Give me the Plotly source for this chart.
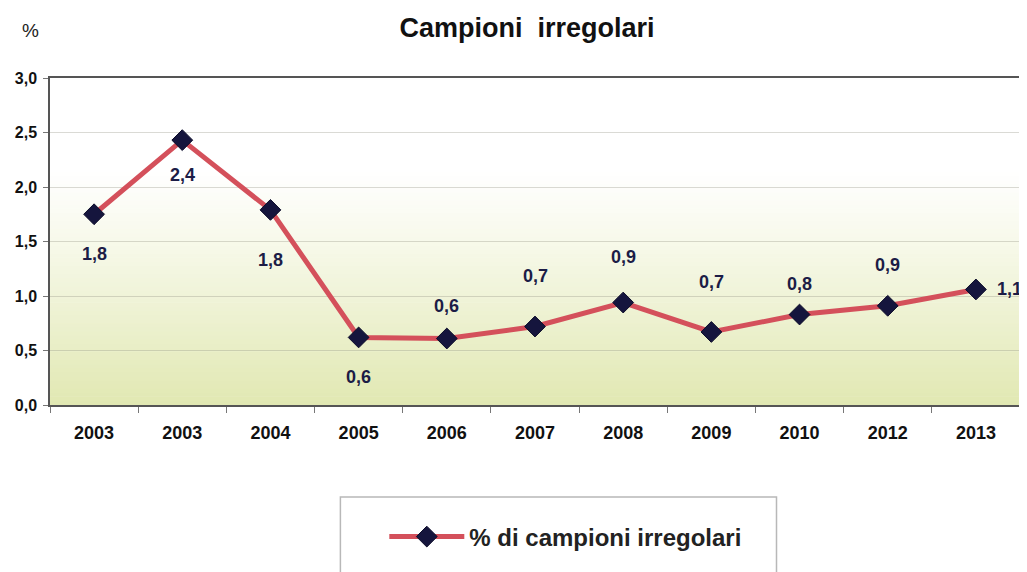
import plotly.graph_objects as go

# ---- data ----
years = ["2003", "2003", "2004", "2005", "2006", "2007", "2008", "2009", "2010", "2012", "2013"]
values = [1.75, 2.43, 1.79, 0.62, 0.61, 0.72, 0.94, 0.67, 0.83, 0.91, 1.06]
value_labels = ["1,8", "2,4", "1,8", "0,6", "0,6", "0,7", "0,9", "0,7", "0,8", "0,9", "1,1"]
series_name = "% di campioni irregolari"
chart_title = "Campioni irregolari"
y_unit = "%"
y_ticks = [0.0, 0.5, 1.0, 1.5, 2.0, 2.5, 3.0]

# label placement offsets (px), styling only
label_dy = [-40, -35, -50, -40, 33, 51, 46, 50, 31, 41, 0]
label_dx = [0, 0, 0, 0, 0, 0, 0, 0, 0, 0, 34]

# page body adds an 8px offset; figure is sized to fill the rest of the window
OFF = 8
W, H = 1027 - OFF, 572 - OFF
L, T = 50 - OFF, 78 - OFF
R = W - (1022 - OFF)
B = H - (405 - OFF)
pw = W - L - R
ph = H - T - B

def px_x(px):
    return (px - OFF - L) / pw

def px_y(py):
    return (H - B - (py - OFF)) / ph

pos = list(range(len(years)))

FONT = "Liberation Sans, Arial, sans-serif"

fig = go.Figure()
fig.add_trace(go.Scatter(
    x=pos, y=values, mode="lines+markers", name=series_name,
    line=dict(color="#d4505b", width=5),
    marker=dict(symbol="diamond", size=16, color="#15153d",
                line=dict(color="#0d0d2a", width=1)),
    hoverinfo="skip",
))

# data labels
for i, (xv, yv, t) in enumerate(zip(pos, values, value_labels)):
    fig.add_annotation(x=xv, y=yv, xref="x", yref="y", text=t, showarrow=False,
                       xshift=label_dx[i], yshift=label_dy[i],
                       font=dict(family=FONT, size=18, color="#1c1c46", weight="bold"))

# background gradient strips (white at top -> pale yellow-green at bottom)
shapes = []
N = 80
top_c = (255, 255, 255)
bot_c = (225, 232, 178)
for k in range(N):
    f0 = k / N
    f1 = (k + 1) / N
    fm = (f0 + f1) / 2
    t = max(0.0, min(1.0, (0.72 - fm) / 0.72))
    t = t ** 1.1
    c = tuple(round(top_c[j] * (1 - t) + bot_c[j] * t) for j in range(3))
    shapes.append(dict(type="rect", xref="x domain", yref="y domain",
                       x0=0, x1=1, y0=f0, y1=f1 + 0.002, layer="below",
                       line=dict(width=0), fillcolor="rgb(%d,%d,%d)" % c))

# legend box
shapes.append(dict(type="rect", xref="paper", yref="paper",
                   x0=px_x(341), x1=px_x(778), y0=px_y(620), y1=px_y(497),
                   line=dict(color="#b8b8b8", width=1.5), fillcolor="rgba(0,0,0,0)"))

fig.update_layout(
    width=W, height=H,
    margin=dict(l=L, r=R, t=T, b=B),
    paper_bgcolor="white", plot_bgcolor="white",
    separators=",.",
    font=dict(family=FONT, color="#111"),
    title=dict(text=chart_title.replace(" ", "\u00a0\u00a0"),
               x=(527 - OFF) / W, xanchor="center", y=1 - (28 - OFF) / H, yanchor="middle",
               font=dict(family=FONT, size=27, color="#111", weight="bold")),
    showlegend=True,
    legend=dict(orientation="h", x=px_x(385), xanchor="left", y=px_y(537), yanchor="middle",
                bgcolor="rgba(0,0,0,0)", borderwidth=0, itemwidth=75,
                font=dict(family=FONT, size=24, color="#222", weight="bold")),
    shapes=shapes,
    xaxis=dict(range=[-0.5, len(years) - 0.5], tickmode="array", tickvals=pos, ticktext=years,
               ticks="", showgrid=False, zeroline=False,
               showline=True, linecolor="#555", linewidth=1.5, mirror=True,
               ticklabelstandoff=11,
               tickfont=dict(family=FONT, size=18, color="#111", weight="bold"),
               minor=dict(tick0=-0.5, dtick=1, ticks="outside", ticklen=6, tickcolor="#777",
                          showgrid=False)),
    yaxis=dict(range=[0, 3], tickmode="array", tickvals=y_ticks, tickformat=".1f",
               ticks="outside", ticklen=5, tickcolor="#777",
               showgrid=True, gridcolor="rgba(150,150,135,0.35)", gridwidth=1,
               zeroline=False, showline=True, linecolor="#555", linewidth=1.5, mirror=True,
               ticklabelstandoff=3,
               tickfont=dict(family=FONT, size=16, color="#111", weight="bold")),
)

fig.add_annotation(xref="paper", yref="paper", x=px_x(30), y=px_y(30), text=y_unit,
                   showarrow=False, xanchor="center", yanchor="middle",
                   font=dict(family=FONT, size=19, color="#222"))

fig.write_html("out.html")
